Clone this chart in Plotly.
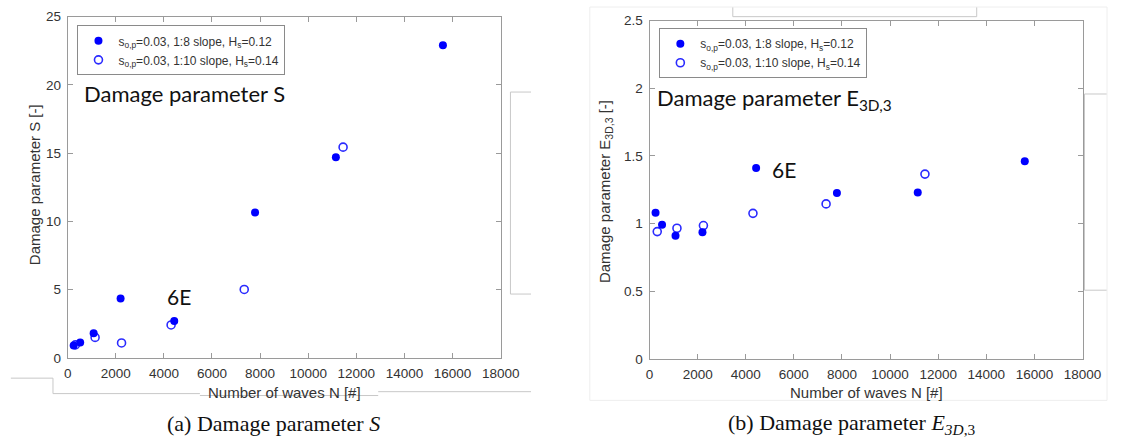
import plotly.graph_objects as go

# ---------------- data ----------------
N_slope8 = [250, 520, 1080, 2200, 4430, 7790, 11150, 15600]
N_slope10 = [320, 1140, 2240, 4300, 7340, 11450]

S_slope8 = [0.90, 1.12, 1.80, 4.35, 2.70, 10.65, 14.70, 22.90]
S_slope10 = [0.95, 1.50, 1.09, 2.41, 5.01, 15.44]

E_slope8 = [1.08, 0.99, 0.91, 0.935, 1.41, 1.225, 1.23, 1.46]
E_slope10 = [0.94, 0.965, 0.985, 1.075, 1.145, 1.365]

x_ticks = [0, 2000, 4000, 6000, 8000, 10000, 12000, 14000, 16000, 18000]
x_ticktext = ["0", "2000", "4000", "6000", "8000", "10000", "12000", "14000", "16000", "18000"]
S_ticks = [0, 5, 10, 15, 20, 25]
S_ticktext = ["0", "5", "10", "15", "20", "25"]
E_ticks = [0, 0.5, 1, 1.5, 2, 2.5]
E_ticktext = ["0", "0.5", "1", "1.5", "2", "2.5"]

name8 = "s<sub>o,p</sub>=0.03, 1:8 slope, H<sub>s</sub>=0.12"
name10 = "s<sub>o,p</sub>=0.03, 1:10 slope, H<sub>s</sub>=0.14"

# ---------------- layout helpers ----------------
W, H = 1126, 448
def px(x):
    return x / W
def py(y):
    return 1 - y / H

BLUE = "#0000ff"
OPEN = "#2b2bff"
AXC = "#9a9a9a"
TXT = "#333333"
SANS = "Liberation Sans, Arial, sans-serif"
CAL = "Lato, Open Sans, sans-serif"

fig = go.Figure()

# left panel
fig.add_trace(go.Scatter(x=N_slope10, y=S_slope10, mode="markers", name=name10,
                         marker=dict(symbol="circle-open", size=8, color=OPEN, line=dict(width=1.6, color=OPEN)),
                         xaxis="x", yaxis="y", legend="legend", legendrank=2))
fig.add_trace(go.Scatter(x=N_slope8, y=S_slope8, mode="markers", name=name8,
                         marker=dict(symbol="circle", size=8, color=BLUE),
                         xaxis="x", yaxis="y", legend="legend", legendrank=1))
# right panel
fig.add_trace(go.Scatter(x=N_slope10, y=E_slope10, mode="markers", name=name10,
                         marker=dict(symbol="circle-open", size=8, color=OPEN, line=dict(width=1.6, color=OPEN)),
                         xaxis="x2", yaxis="y2", legend="legend2", legendrank=2))
fig.add_trace(go.Scatter(x=N_slope8, y=E_slope8, mode="markers", name=name8,
                         marker=dict(symbol="circle", size=8, color=BLUE),
                         xaxis="x2", yaxis="y2", legend="legend2", legendrank=1))

axis_common = dict(showline=True, linecolor=AXC, linewidth=1, mirror="ticks",
                   ticks="inside", ticklen=5, tickcolor=AXC, showgrid=False,
                   zeroline=False, tickfont=dict(family=SANS, size=13.5, color=TXT))

legend_common = dict(bgcolor="white", bordercolor="#8a8a8a", borderwidth=1,
                     font=dict(family=SANS, size=12, color=TXT),
                     xanchor="left", yanchor="top", itemsizing="trace",
                     tracegroupgap=0)

fig.update_layout(
    width=W, height=H, margin=dict(l=0, r=0, t=0, b=0),
    paper_bgcolor="white", plot_bgcolor="white",
    xaxis=dict(domain=[px(65), px(507)], range=[0, 18000], tickvals=x_ticks, ticktext=x_ticktext,
               anchor="y", ticklabelstandoff=3, **axis_common),
    yaxis=dict(domain=[py(363), py(10)], range=[0, 25], tickvals=S_ticks, ticktext=S_ticktext,
               anchor="x", ticklabelstandoff=3, **axis_common),
    xaxis2=dict(domain=[px(659), px(1101)], range=[0, 18000], tickvals=x_ticks, ticktext=x_ticktext,
                anchor="y2", ticklabelstandoff=3, **axis_common),
    yaxis2=dict(domain=[py(364), py(14)], range=[0, 2.5], tickvals=E_ticks, ticktext=E_ticktext,
                anchor="x2", ticklabelstandoff=3, **axis_common),
    legend=dict(x=px(75), y=py(19), **legend_common),
    legend2=dict(x=px(669), y=py(22), **legend_common),
    showlegend=True,
)

def A(text, x, y, size, family=SANS, color=TXT, xanchor="center", angle=0):
    return dict(text=text, x=px(x), y=py(y), xref="paper", yref="paper", xanchor=xanchor,
                yanchor="middle", textangle=angle, showarrow=False,
                font=dict(family=family, size=size, color=color))

ann = [
    A("Number of waves N [#]", 286, 399, 15),
    A("Number of waves N [#]", 880, 399, 15),
    A("Damage parameter S [-]", 31, 184, 15, angle=-90),
    A("Damage parameter E<sub>3D,3</sub> [-]", 614, 191, 15, angle=-90),
    A("Damage parameter S", 80, 89, 22, family=CAL, color="#111111", xanchor="left"),
    A("Damage parameter E<sub>3D,3</sub>", 665, 95, 22, family=CAL, color="#111111", xanchor="left"),
    A("6E", 164, 300, 21, family=CAL, color="#111111", xanchor="left"),
    A("6E", 782, 168, 21, family=CAL, color="#111111", xanchor="left"),
    A("(a) Damage parameter <i>S</i>", 275, 431, 22, family="Liberation Serif, serif", color="#111111"),
    A("(b) Damage parameter <i>E<sub>3D</sub></i><sub>,3</sub>", 866, 431, 22, family="Liberation Serif, serif", color="#111111"),
]
fig.update_layout(annotations=ann)

# page-layout artifact lines (decoration)
LC = "#c8c8c8"
segs = [
    (7, 384, 50, 384), (50, 384, 50, 400), (50, 400, 200, 400), (200, 402, 382, 402),
    (382, 398, 538, 398),
    (517, 88, 538, 88), (517, 88, 517, 297), (517, 297, 538, 297),
    (744, 0, 744, 10), (744, 10, 993, 10), (993, 10, 993, 0),
    (1103, 90, 1126, 90), (1103, 90, 1103, 293), (1103, 293, 1126, 293),
]
shapes = []
for x0, y0, x1, y1 in segs:
    shapes.append(dict(type="line", xref="paper", yref="paper", x0=px(x0), y0=py(y0), x1=px(x1), y1=py(y1),
                       line=dict(color=LC, width=1), layer="below"))
shapes.append(dict(type="rect", xref="paper", yref="paper", x0=px(598), y0=py(407), x1=px(1126), y1=py(0),
                   line=dict(color="#eeeeee", width=1), layer="below"))
fig.update_layout(shapes=shapes)

fig.write_html("out.html")
